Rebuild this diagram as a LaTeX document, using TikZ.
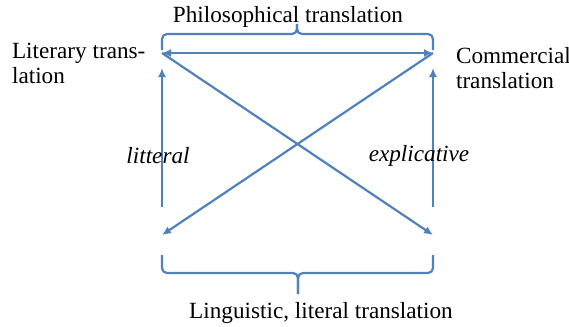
\documentclass[tikz,border=0pt]{standalone}
\usepackage{fontspec}
\setmainfont{Liberation Serif}
\usetikzlibrary{arrows.meta}
\definecolor{linkblue}{RGB}{79,129,189}
\begin{document}
\begin{tikzpicture}[
    x=0.5pt, y=-0.5pt,
    font=\fontsize{11.6}{12.5}\selectfont,
    arrow/.style={-{Latex[length=4.5pt,width=4pt]}, linkblue, line width=1.1pt},
    brace/.style={linkblue, line width=1.1pt, rounded corners=2.5pt},
    label/.style={inner sep=1pt, text=black, font=\fontsize{11.6}{12.5}\selectfont\itshape}
]
    \useasboundingbox (0,0) rectangle (569,327);

    % corners of the square
    \coordinate (lt) at (162,53);
    \coordinate (rt) at (433,53);
    \coordinate (lb) at (162,235);
    \coordinate (rb) at (433,235);
    \coordinate (ls) at (162,207);
    \coordinate (le) at (162,68);
    \coordinate (rs) at (433,207);
    \coordinate (re) at (433,68);

    \node (philo) at (288,17) {Philosophical translation};
    \node[anchor=west, align=left] (liter) at (5,63) {Literary trans-\\lation};
    \node[anchor=west, align=left] (comm) at (449,68) {Commercial\\translation};
    \node (ling) at (321,313) {Linguistic, literal translation};

    \draw[arrow, {Latex[length=4.5pt,width=4pt]}-{Latex[length=4.5pt,width=4pt]}] (lt) -- (rt);
    \draw[arrow] (ls) -- node[label, pos=0.37, xshift=-2pt] (litt) {litteral} (le);
    \draw[arrow] (rs) -- node[label, pos=0.37, xshift=-7pt] (expl) {explicative} (re);
    \draw[arrow] (lt) -- (rb);
    \draw[arrow] (rt) -- (lb);

    % braces
    \draw[brace] (162,50) -- (162,34) -- (297,34) -- (297,24);
    \draw[brace] (297,24) -- (297,34) -- (433,34) -- (433,50);
    \draw[brace] (162,255) -- (162,273) -- (298,273) -- (298,294);
    \draw[brace] (298,294) -- (298,273) -- (433,273) -- (433,255);
\end{tikzpicture}
\end{document}
